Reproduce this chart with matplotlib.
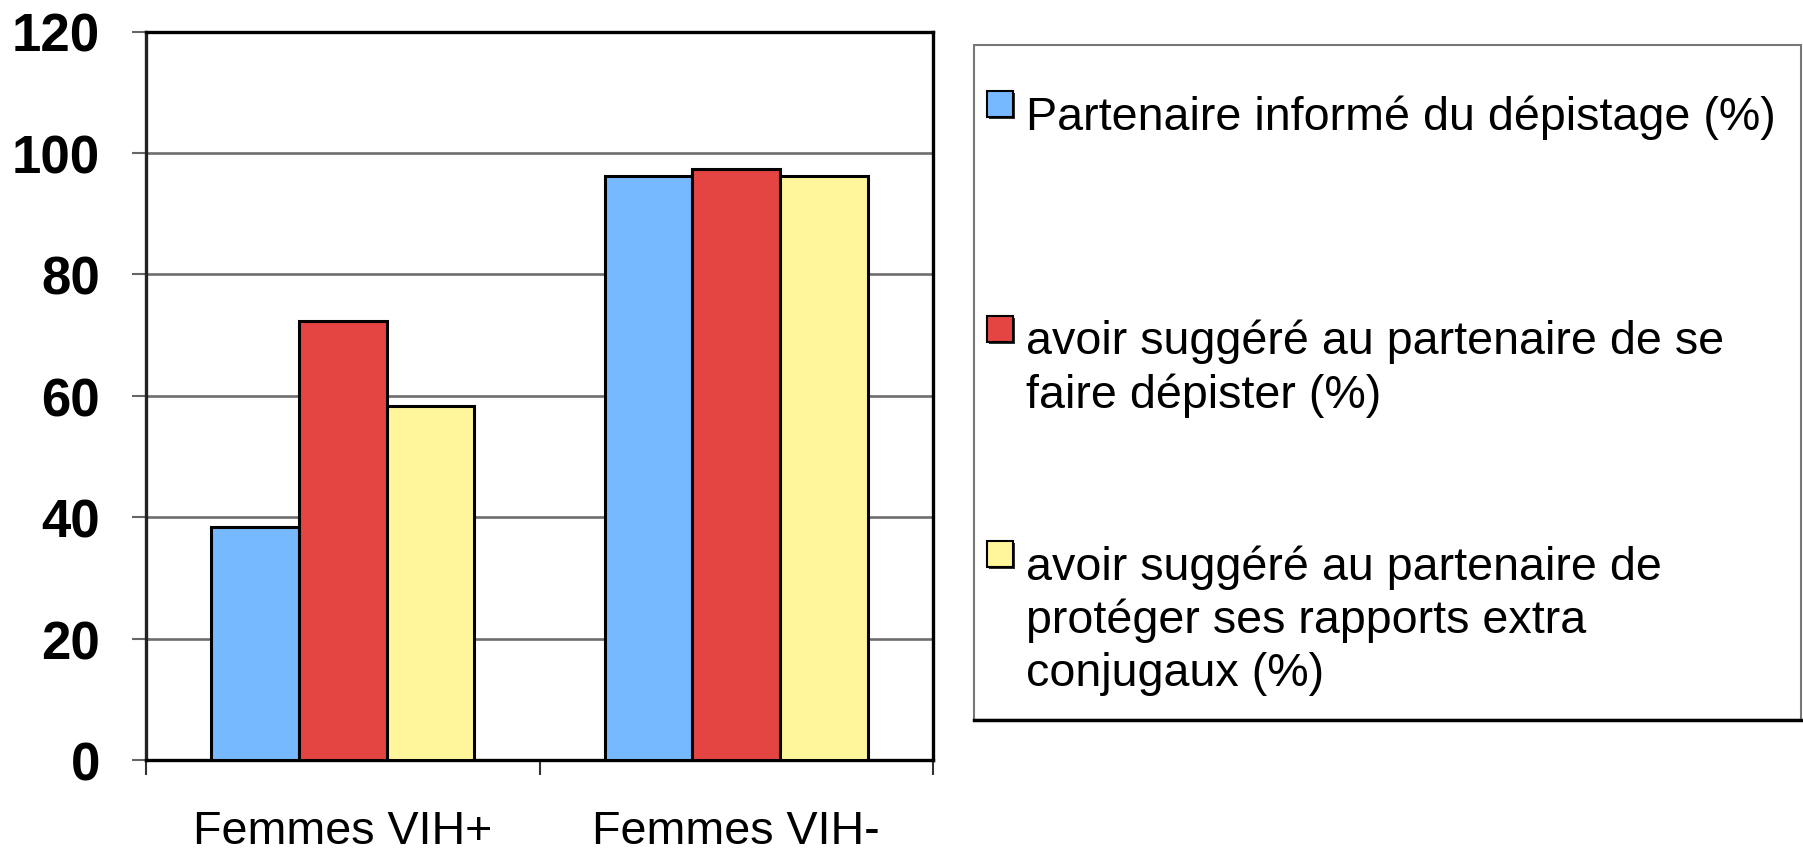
import matplotlib
matplotlib.use('Agg')
import matplotlib.pyplot as plt
import numpy as np
from matplotlib.patches import Rectangle
from matplotlib.lines import Line2D

plt.rcParams['font.family'] = ['Liberation Sans', 'DejaVu Sans']

groups = ['Femmes VIH+', 'Femmes VIH-']
informe = [38.4, 96.2]
suggere_depist = [72.3, 97.3]
suggere_proteger = [58.3, 96.2]
series_labels = [
    'Partenaire informé du dépistage (%)',
    'avoir suggéré au partenaire de se\nfaire dépister (%)',
    'avoir suggéré au partenaire de\nprotéger ses rapports extra\nconjugaux (%)',
]
colors = ['#77B9FF', '#E44542', '#FFF59B']
yticks = [0, 20, 40, 60, 80, 100, 120]

W, H = 1803, 854
fig = plt.figure(figsize=(W / 100, H / 100), dpi=100)
ax = fig.add_axes([146 / W, 1 - 761 / H, (933 - 146) / W, (761 - 32.5) / H])

x = np.arange(len(groups))
w = 0.223
for i, vals in enumerate([informe, suggere_depist, suggere_proteger]):
    ax.bar(x + (i - 1) * w, vals, w, color=colors[i], edgecolor='black',
           linewidth=2.2, zorder=3)

ax.set_xlim(-0.5, 1.5)
ax.set_ylim(0, 120)
ax.set_yticks(yticks)
ax.set_yticklabels([str(v) for v in yticks], fontsize=38, fontweight='bold')
ax.tick_params(axis='y', length=10, width=1.5, color='#666666', pad=23)
ax.yaxis.grid(True, color='#6e6e6e', linewidth=1.9, zorder=0)

ax.set_xticks(x)
ax.set_xticklabels(groups, fontsize=33.6)
ax.tick_params(axis='x', which='major', length=0, pad=35)
ax.set_xticks([-0.5, 0.5, 1.5], minor=True)
ax.tick_params(axis='x', which='minor', length=11, width=1.5, color='#333333')

for side in ['top', 'right', 'bottom']:
    ax.spines[side].set_linewidth(2.4)
    ax.spines[side].set_color('black')
ax.spines['left'].set_linewidth(2.4)
ax.spines['left'].set_color('#222222')

# legend box drawn by hand
def fx(px):
    return px / W

def fy(py):
    return 1 - py / H

fig.add_artist(Rectangle((fx(974), fy(721)), fx(1801) - fx(974), fy(46) - fy(721),
                         transform=fig.transFigure, facecolor='white',
                         edgecolor='#777777', linewidth=1.5))
fig.add_artist(Line2D([fx(974), fx(1803)], [fy(721), fy(721)],
                      transform=fig.transFigure, color='black', linewidth=2.5))

tops = [92, 317, 542]
for top, lab, col in zip(tops, series_labels, colors):
    fig.add_artist(Rectangle((fx(989), fy(top + 28)), 26 / W, 26 / H,
                             transform=fig.transFigure, facecolor='#333333',
                             edgecolor='none'))
    fig.add_artist(Rectangle((fx(987), fy(top + 26)), 26 / W, 26 / H,
                             transform=fig.transFigure, facecolor=col,
                             edgecolor='black', linewidth=1.5))
    fig.text(fx(1026), fy(top + 3), lab, fontsize=33.6, va='top',
             ha='left', linespacing=1.27)

fig.savefig('out.png', dpi=100)
